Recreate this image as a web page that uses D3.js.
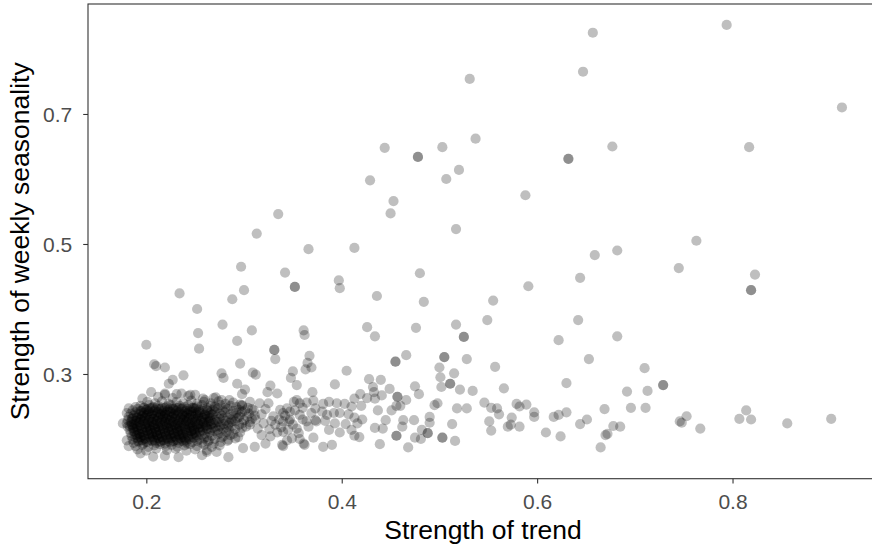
<!DOCTYPE html>
<html>
<head>
<meta charset="utf-8">
<script src="https://cdn.jsdelivr.net/npm/d3@7"></script>
<style>
  body { margin: 0; background: #fff; overflow: hidden; }
  svg { display: block; }
</style>
</head>
<body>
<div class="chart"></div>
<script>

// tick values on each axis
var xTicks = [0.2, 0.4, 0.6, 0.8];
var yTicks = [0.3, 0.5, 0.7];

// [strength of trend, strength of weekly seasonality] for the scattered series
var outerPoints = [
  [.531,.754],[.537,.662],[.444,.648],[.478,.634],[.478,.634],[.503,.649],[.520,.614],[.507,.600],
  [.429,.598],[.453,.566],[.450,.547],[.517,.523],[.335,.546],[.313,.516],[.366,.492],[.413,.494],
  [.657,.825],[.794,.837],[.647,.765],[.912,.710],[.677,.650],[.817,.649],[.632,.631],[.632,.631],
  [.588,.575],[.763,.505],[.682,.490],
  [.659,.483],[.745,.463],[.823,.453],[.819,.429],[.819,.429],[.591,.435],[.644,.448],[.555,.413],
  [.549,.383],[.642,.383],[.622,.352],[.682,.358],[.653,.323],[.557,.311],[.528,.323],
  [.710,.309],[.729,.283],[.729,.283],[.692,.273],[.713,.274],[.630,.286],[.566,.278],[.534,.274],
  [.546,.256],[.528,.247],[.553,.248],[.559,.247],[.561,.238],[.579,.254],[.582,.250],[.589,.253],
  [.597,.241],[.597,.234],[.574,.233],[.551,.227],[.553,.213],[.570,.219],[.573,.222],[.582,.219],
  [.609,.210],[.624,.204],[.617,.234],[.622,.237],[.630,.241],[.644,.223],[.651,.230],[.669,.246],
  [.696,.248],[.711,.248],[.678,.220],[.685,.219],[.672,.208],[.670,.206],[.665,.187],[.746,.227],
  [.748,.225],[.753,.235],[.767,.216],[.807,.231],[.814,.244],[.819,.230],[.856,.224],[.901,.231],
  [.297,.465],[.342,.456],[.352,.434],[.352,.434],[.397,.444],[.398,.432],[.480,.455],[.484,.411],
  [.436,.420],[.234,.424],[.288,.415],[.300,.429],[.252,.400],[.278,.376],[.253,.363],[.308,.367],
  [.293,.351],[.200,.345],[.254,.339],[.361,.367],[.362,.360],[.331,.337],[.331,.337],[.332,.323],
  [.426,.372],[.434,.358],[.476,.371],[.517,.376],[.525,.357],[.525,.357],[.466,.329],[.455,.319],
  [.455,.319],[.505,.326],[.505,.326],[.500,.310],[.501,.295],[.502,.280],[.511,.285],[.511,.285],
  [.515,.301],[.521,.276],[.498,.255],[.495,.252],[.518,.247],[.513,.223],[.503,.202],[.503,.202],
  [.516,.197],[.488,.209],[.488,.209],[.490,.234],[.490,.225],[.481,.200],[.475,.202],[.468,.187],
  [.474,.229],[.482,.214],[.475,.281],[.479,.269],[.457,.265],[.457,.265],[.466,.260],[.460,.251],
  [.451,.244],[.463,.229],[.456,.205],[.456,.205],[.439,.192],[.445,.229],[.442,.216],[.434,.217],
  [.437,.244],[.449,.277],[.440,.291],[.428,.292],[.432,.280],[.441,.267],[.434,.262],[.426,.263],
  [.419,.269],[.413,.262],[.405,.305],[.393,.284],[.367,.328],[.365,.317],[.369,.310],[.363,.307],
  [.348,.294],[.350,.304],[.354,.283],[.296,.316],[.277,.301],[.279,.294],[.309,.302],[.312,.299],
  [.293,.285],[.301,.276],[.298,.269],[.327,.282],[.324,.272],[.334,.270],[.238,.298],[.227,.291],
  [.223,.285],[.219,.310],[.208,.315],[.210,.312],[.370,.272],
  [.433,.272],[.420,.251],[.410,.250],[.403,.254],[.395,.255],[.387,.257],[.381,.254],[.371,.259],
  [.373,.247],[.364,.256],[.354,.260],[.351,.257],[.344,.247],[.347,.242],[.340,.240],[.357,.237],
  [.360,.230],[.347,.230],[.340,.227],[.369,.240],[.380,.242],[.385,.237],[.392,.240],[.398,.240],
  [.407,.238],[.413,.233],[.421,.230],[.416,.224],[.404,.223],[.393,.224],[.383,.228],[.374,.227],
  [.366,.219],[.387,.214],[.398,.210],[.410,.214],[.413,.205],[.418,.203],[.371,.202],[.361,.193],
  [.390,.191],[.381,.188],[.344,.198],[.339,.191],[.456,.251],[.462,.219],
  [.205,.272],[.219,.270],[.231,.269],[.245,.268],[.182,.247],[.180,.240],[.176,.224],[.183,.220],
  [.180,.198],[.182,.189],[.194,.178],[.207,.173],[.219,.174],[.233,.172],[.257,.175],[.262,.180],
  [.284,.172],[.272,.180],[.299,.186],[.311,.188],[.340,.189],[.362,.191],[.322,.193],[.327,.204],
  [.349,.201],[.357,.200],[.325,.255],[.316,.255],[.306,.257],[.298,.252],[.285,.260],[.277,.260],
  [.269,.263],[.260,.260],[.357,.255],[.337,.245],[.320,.224],[.332,.222],[.346,.227],[.340,.211],
  [.354,.216],[.364,.227],[.373,.229],
  [.330,.235],[.336,.230],[.342,.236],[.326,.215],[.334,.210],[.350,.222],[.356,.209],[.345,.214],
  [.338,.218],[.328,.228],[.318,.238],[.322,.246],[.312,.230],[.314,.216],[.306,.222],[.310,.244],
  [.318,.206],[.352,.244],[.360,.248]
];

// the dense group of low-trend, low-seasonality series
var clusterPoints = [
  [.201,.257],[.209,.255],[.216,.258],[.223,.254],[.231,.257],[.238,.255],[.246,.259],[.252,.254],
  [.259,.257],[.266,.255],[.274,.258],[.281,.254],[.289,.256],[.296,.253],
  [.196,.262],[.212,.265],[.227,.263],[.243,.266],[.258,.262],[.271,.264],[.236,.270],[.219,.268],[.250,.268],
  [.189,.249],[.194,.251],[.198,.248],[.203,.252],[.207,.249],[.212,.251],[.216,.248],[.221,.250],
  [.225,.252],[.230,.248],[.234,.251],[.239,.249],[.243,.252],[.248,.248],[.252,.250],[.257,.252],
  [.262,.248],[.266,.251],[.271,.249],[.276,.252],[.281,.248],[.286,.251],[.292,.249],[.298,.251],[.304,.248],
  [.186,.244],[.191,.246],[.195,.243],[.200,.245],[.204,.247],[.209,.244],[.213,.246],[.218,.243],
  [.222,.245],[.227,.247],[.231,.244],[.236,.246],[.240,.243],[.245,.245],[.249,.247],[.254,.244],
  [.258,.246],[.263,.243],[.268,.245],[.273,.247],[.278,.244],[.283,.246],[.289,.243],[.295,.245],
  [.301,.244],[.308,.246],
  [.184,.239],[.189,.241],[.193,.238],[.197,.240],[.202,.242],[.206,.239],[.211,.241],[.215,.238],
  [.219,.240],[.224,.242],[.228,.239],[.233,.241],[.237,.238],[.242,.240],[.246,.242],[.251,.239],
  [.255,.241],[.260,.238],[.265,.240],[.270,.242],[.275,.239],[.280,.241],[.286,.238],[.292,.240],
  [.298,.242],[.305,.239],
  [.182,.234],[.187,.236],[.191,.233],[.195,.235],[.200,.237],[.204,.234],[.208,.236],[.213,.233],
  [.217,.235],[.221,.237],[.226,.234],[.230,.236],[.235,.233],[.239,.235],[.244,.237],[.248,.234],
  [.253,.236],[.257,.233],[.262,.235],[.267,.237],[.272,.234],[.277,.236],[.283,.233],[.289,.235],
  [.296,.237],[.303,.234],[.311,.236],
  [.181,.229],[.185,.231],[.190,.228],[.194,.230],[.198,.232],[.203,.229],[.207,.231],[.211,.228],
  [.216,.230],[.220,.232],[.224,.229],[.229,.231],[.233,.228],[.238,.230],[.242,.232],[.247,.229],
  [.251,.231],[.256,.228],[.260,.230],[.265,.232],[.270,.229],[.275,.231],[.281,.228],[.287,.230],
  [.293,.232],[.300,.229],[.308,.231],
  [.180,.224],[.184,.226],[.188,.223],[.193,.225],[.197,.227],[.201,.224],[.206,.226],[.210,.223],
  [.214,.225],[.219,.227],[.223,.224],[.227,.226],[.232,.223],[.236,.225],[.241,.227],[.245,.224],
  [.250,.226],[.254,.223],[.259,.225],[.264,.227],[.269,.224],[.274,.226],[.279,.223],[.285,.225],
  [.291,.227],[.298,.224],[.306,.226],
  [.181,.219],[.186,.221],[.190,.218],[.194,.220],[.199,.222],[.203,.219],[.207,.221],[.212,.218],
  [.216,.220],[.220,.222],[.225,.219],[.229,.221],[.234,.218],[.238,.220],[.243,.222],[.247,.219],
  [.252,.221],[.256,.218],[.261,.220],[.266,.222],[.271,.219],[.276,.221],[.282,.218],[.288,.220],
  [.295,.222],[.302,.219],
  [.183,.214],[.187,.216],[.191,.213],[.196,.215],[.200,.217],[.204,.214],[.209,.216],[.213,.213],
  [.217,.215],[.222,.217],[.226,.214],[.231,.216],[.235,.213],[.240,.215],[.244,.217],[.249,.214],
  [.253,.216],[.258,.213],[.263,.215],[.268,.217],[.273,.214],[.279,.216],[.285,.213],[.291,.215],[.298,.217],
  [.184,.209],[.188,.211],[.193,.208],[.197,.210],[.201,.212],[.206,.209],[.210,.211],[.214,.208],
  [.219,.210],[.223,.212],[.228,.209],[.232,.211],[.237,.208],[.241,.210],[.246,.212],[.250,.209],
  [.255,.211],[.260,.208],[.265,.210],[.270,.212],[.276,.209],[.282,.211],[.289,.208],[.296,.210],
  [.185,.204],[.190,.206],[.194,.203],[.198,.205],[.203,.207],[.207,.204],[.211,.206],[.216,.203],
  [.220,.205],[.225,.207],[.229,.204],[.234,.206],[.238,.203],[.243,.205],[.247,.207],[.252,.204],
  [.257,.206],[.262,.203],[.267,.205],[.273,.207],[.279,.204],[.286,.206],[.294,.203],
  [.186,.199],[.191,.201],[.195,.198],[.199,.200],[.204,.202],[.208,.199],[.213,.201],[.217,.198],
  [.222,.200],[.226,.202],[.231,.199],[.235,.201],[.240,.198],[.244,.200],[.249,.202],[.254,.199],
  [.259,.201],[.264,.198],[.270,.200],[.277,.202],[.284,.199],[.291,.201],
  [.187,.194],[.192,.196],[.197,.193],[.201,.195],[.206,.197],[.210,.194],[.215,.196],[.219,.193],
  [.224,.195],[.228,.197],[.233,.194],[.238,.196],[.242,.193],[.247,.195],[.252,.197],[.257,.194],
  [.263,.196],[.269,.193],[.276,.195],[.283,.197],
  [.189,.189],[.196,.191],[.202,.188],[.208,.190],[.214,.192],[.220,.189],[.226,.191],[.232,.188],
  [.239,.190],[.245,.192],[.252,.189],[.259,.191],[.267,.188],[.275,.190],
  [.191,.184],[.200,.182],[.210,.185],[.221,.183],[.230,.185],[.241,.182],[.250,.184],[.262,.183],
  // second, denser layer through the middle of the group
  [.197,.248],[.201,.246],[.206,.248],[.210,.247],[.215,.246],[.219,.248],[.224,.247],
  [.228,.246],[.233,.248],[.237,.247],[.242,.246],[.247,.248],[.251,.247],
  [.194,.243],[.198,.241],[.203,.243],[.207,.242],[.212,.241],[.216,.243],[.221,.242],
  [.225,.241],[.230,.243],[.234,.242],[.239,.241],[.244,.243],[.248,.242],[.253,.241],[.258,.243],
  [.190,.238],[.196,.236],[.201,.238],[.205,.237],[.210,.236],[.214,.238],[.219,.237],
  [.223,.236],[.228,.238],[.232,.237],[.237,.236],[.241,.238],[.246,.237],[.250,.236],[.255,.238],[.260,.237],[.265,.236],
  [.186,.232],[.190,.233],[.194,.231],[.199,.233],[.203,.232],[.208,.231],[.212,.233],[.217,.232],
  [.221,.231],[.226,.233],[.230,.232],[.235,.231],[.239,.233],[.244,.232],[.248,.231],[.253,.233],[.258,.232],[.263,.231],
  [.185,.227],[.189,.228],[.193,.226],[.198,.228],[.202,.227],[.207,.226],[.211,.228],[.216,.227],
  [.220,.226],[.225,.228],[.229,.227],[.234,.226],[.238,.228],[.243,.227],[.247,.226],[.252,.228],[.257,.227],[.262,.226],[.266,.228],
  [.185,.222],[.190,.223],[.194,.221],[.199,.223],[.203,.222],[.208,.221],[.212,.223],[.217,.222],
  [.221,.221],[.226,.223],[.230,.222],[.235,.221],[.239,.223],[.244,.222],[.248,.221],[.253,.223],[.258,.222],[.262,.221],[.266,.223],
  [.186,.217],[.191,.218],[.195,.216],[.200,.218],[.204,.217],[.209,.216],[.213,.218],[.218,.217],
  [.222,.216],[.227,.218],[.231,.217],[.236,.216],[.240,.218],[.245,.217],[.249,.216],[.254,.218],[.258,.217],[.262,.216],
  [.187,.212],[.192,.213],[.196,.211],[.201,.213],[.205,.212],[.210,.211],[.214,.213],[.219,.212],
  [.223,.211],[.228,.213],[.232,.212],[.237,.211],[.241,.213],[.246,.212],[.250,.211],[.255,.213],
  [.188,.207],[.193,.208],[.197,.206],[.202,.208],[.206,.207],[.211,.206],[.215,.208],[.220,.207],
  [.224,.206],[.229,.208],[.233,.207],[.238,.206],[.242,.208],[.247,.207],[.251,.206],
  [.189,.202],[.194,.203],[.198,.201],[.203,.203],[.207,.202],[.212,.201],[.216,.203],[.221,.202],
  [.225,.201],[.230,.203],[.234,.202],[.239,.201],[.243,.203],[.248,.202],
  [.191,.197],[.196,.198],[.200,.196],[.205,.198],[.209,.197],[.214,.196],[.218,.198],[.223,.197],
  [.227,.196],[.232,.198],[.236,.197],[.241,.196],
  // thinning edge of the group towards higher trend
  [.268,.238],[.272,.226],[.279,.232],[.284,.221],[.266,.214],[.275,.219],[.288,.227],[.295,.234],
  [.262,.245],[.270,.250]
];

var dataset = outerPoints.concat(clusterPoints);

var W = 872, H = 548;
var margin = { top: 4, right: -6, bottom: 69.3, left: 88 };
var w = W - margin.left - margin.right,
    h = H - margin.top - margin.bottom;

var xScale = d3.scaleLinear().domain([0.1403, 0.9489]).range([0, w]);
var yScale = d3.scaleLinear().domain([0.1389, 0.8692]).range([h, 0]);

var svg = d3.select(".chart")
  .append("svg")
  .attr("width", W)
  .attr("height", H)
  .style("font-family", "'Liberation Sans', Arial, Helvetica, sans-serif");

var g = svg.append("g")
  .attr("transform", "translate(" + margin.left + "," + margin.top + ")");

// points
g.selectAll("circle")
  .data(dataset)
  .enter()
  .append("circle")
  .attr("cx", function(d) { return xScale(d[0]); })
  .attr("cy", function(d) { return yScale(d[1]); })
  .attr("r", 5.1)
  .attr("fill", "#000")
  .attr("fill-opacity", 0.25);

// panel border (right edge falls just outside the picture)
g.append("rect")
  .attr("x", 0)
  .attr("y", 0)
  .attr("width", w)
  .attr("height", h)
  .attr("fill", "none")
  .attr("stroke", "#333333")
  .attr("stroke-width", 1.1);

// x axis
var xAxis = g.append("g")
  .attr("transform", "translate(0," + h + ")")
  .call(d3.axisBottom(xScale).tickValues(xTicks).tickSize(4.8).tickPadding(8).tickFormat(d3.format(".1f")));
xAxis.select(".domain").remove();
xAxis.selectAll(".tick line").attr("stroke", "#333333").attr("stroke-width", 1.1);
xAxis.selectAll(".tick text")
  .attr("fill", "#4d4d4d")
  .attr("font-size", "21px")
  .attr("dy", null)
  .attr("y", 30.3)
  .attr("font-family", "'Liberation Sans', Arial, Helvetica, sans-serif");

// y axis
var yAxis = g.append("g")
  .call(d3.axisLeft(yScale).tickValues(yTicks).tickSize(4.8).tickPadding(11).tickFormat(d3.format(".1f")));
yAxis.select(".domain").remove();
yAxis.selectAll(".tick line").attr("stroke", "#333333").attr("stroke-width", 1.1);
yAxis.selectAll(".tick text")
  .attr("fill", "#4d4d4d")
  .attr("font-size", "21px")
  .attr("dy", "0.36em")
  .attr("font-family", "'Liberation Sans', Arial, Helvetica, sans-serif");

// axis titles
svg.append("text")
  .attr("x", margin.left + w / 2)
  .attr("y", 539)
  .attr("text-anchor", "middle")
  .attr("font-size", "26.5px")
  .attr("fill", "#000")
  .text("Strength of trend");

svg.append("text")
  .attr("transform", "translate(29," + (margin.top + h / 2) + ") rotate(-90)")
  .attr("text-anchor", "middle")
  .attr("font-size", "26.5px")
  .attr("fill", "#000")
  .text("Strength of weekly seasonality");

</script>
</body>
</html>
